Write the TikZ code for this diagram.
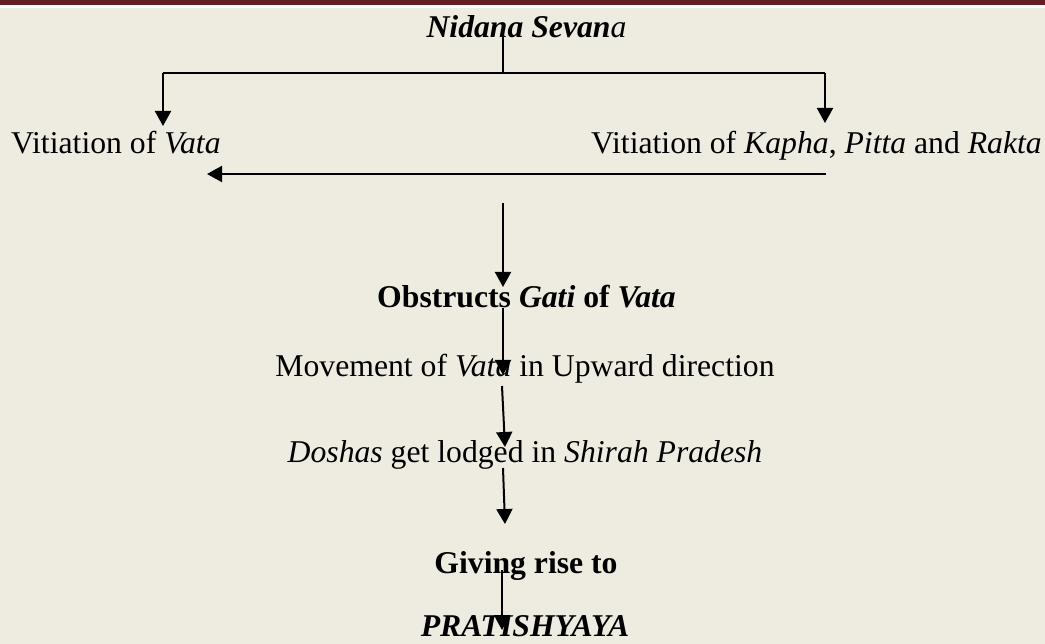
\documentclass[tikz,border=0pt]{standalone}
\usepackage{fontspec}
\setmainfont{Liberation Serif}
\usetikzlibrary{arrows.meta}
\definecolor{bgbeige}{HTML}{EEEBE0}
\definecolor{barred}{HTML}{651F23}
\tikzset{
  txt/.style={inner sep=0pt, font=\fontsize{31.7}{38}\selectfont},
  conn/.style={line width=2pt, draw=black},
  arr/.style={conn, -{Triangle[length=15pt,width=16pt]}}
}
\begin{document}
\begin{tikzpicture}[x=1pt,y=-1pt]
\useasboundingbox (0,0) rectangle (1045,644);
\fill[bgbeige] (0,0) rectangle (1045,644);
\fill[white] (0,0) rectangle (1045,8);
\fill[barred] (0,0) rectangle (1045,5);

% text nodes
\node[txt, anchor=base] (title) at (526.5,37.5) {\textbf{\textit{Nidana Sevan}}\textit{a}};
\node[txt, anchor=base west] (vata) at (11,154) {Vitiation of \textit{Vata}};
\node[txt, anchor=base east] (kpr) at (1042,154) {Vitiation of \textit{Kapha}, \textit{Pitta} and \textit{Rakta}};
\node[txt, anchor=base] (obs) at (526.5,308) {\textbf{Obstructs \textit{Gati} of \textit{Vata}}};
\node[txt, anchor=base] (mov) at (525,377) {Movement of \textit{Vata} in Upward direction};
\node[txt, anchor=base] (dos) at (525,462) {\textit{Doshas} get lodged in \textit{Shirah Pradesh}};
\node[txt, anchor=base] (giv) at (526,573) {\textbf{Giving rise to}};
\node[txt, anchor=base] (pra) at (525,636) {\textbf{\textit{PRATISHYAYA}}};

% connector points
\coordinate (t0) at (503,33);
\coordinate (j) at (503,73);
\coordinate (jl) at (163,73);
\coordinate (jr) at (825,73);
\coordinate (vl) at (163,126);
\coordinate (vr) at (825,123);
\coordinate (h0) at (826,174);
\coordinate (h1) at (207,174);
\coordinate (a0) at (503,203);
\coordinate (a1) at (503,287);
\coordinate (b0) at (503,308);
\coordinate (b1) at (503,375);
\coordinate (c0) at (502,386);
\coordinate (c1) at (505,447);
\coordinate (d0) at (503,468);
\coordinate (d1) at (505,524);
\coordinate (e0) at (502,570);
\coordinate (e1) at (502,630);

\draw[conn] (t0) -- (j);
\draw[conn] (jl) -- (jr);
\draw[arr] (jl) -- (vl);
\draw[arr] (jr) -- (vr);
\draw[arr] (h0) -- (h1);
\draw[arr] (a0) -- (a1);
\draw[arr] (b0) -- (b1);
\draw[arr] (c0) -- (c1);
\draw[arr] (d0) -- (d1);
\draw[arr] (e0) -- (e1);
\end{tikzpicture}
\end{document}
